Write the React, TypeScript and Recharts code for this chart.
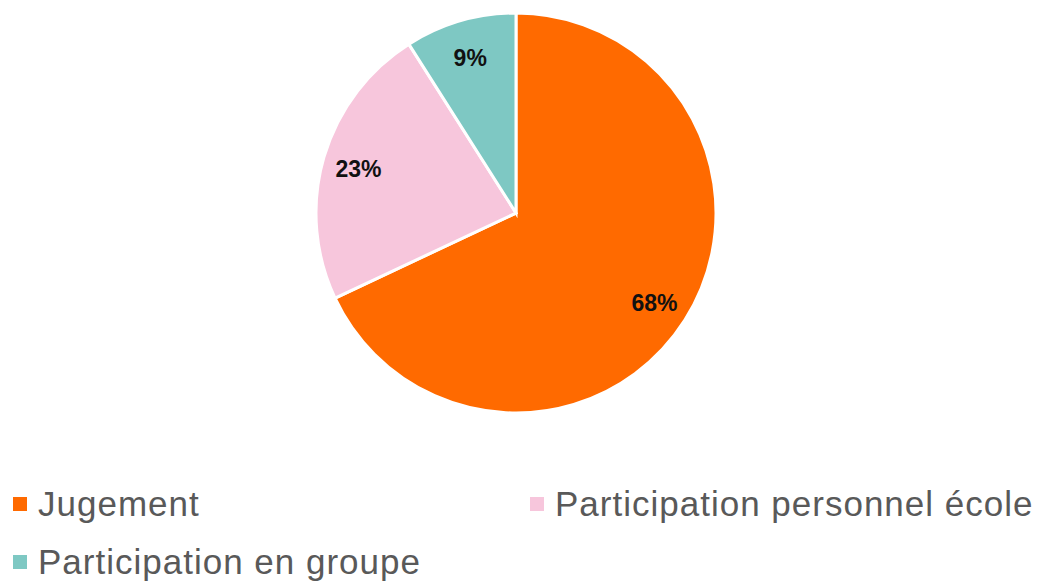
import React from "react";
import { PieChart, Pie, Cell, Legend } from "recharts";

const categories = ["Jugement", "Participation personnel école", "Participation en groupe"];
const shares = [68, 23, 9];
const colors = ["#FF6A00", "#F7C6DC", "#7EC8C3"];

const data = categories.map((name, i) => ({ name, value: shares[i] }));

const RADIAN = Math.PI / 180;

const renderLabel = (props: any) => {
  const { cx, cy, midAngle, outerRadius, value } = props;
  const r = outerRadius * 0.82;
  const x = cx + r * Math.cos(-midAngle * RADIAN);
  const y = cy + r * Math.sin(-midAngle * RADIAN) + 2;
  return (
    <text
      x={x}
      y={y}
      fill="#111"
      textAnchor="middle"
      dominantBaseline="central"
      fontSize={23}
      fontWeight={700}
      fontFamily="Liberation Sans, Arial, sans-serif"
    >
      {`${value}%`}
    </text>
  );
};

// legend: two columns, items flow left to right
const renderLegend = () => (
  <div style={{ position: "relative", width: 1039, height: 110 }}>
    {data.map((d, i) => {
      const col = i % 2;
      const row = Math.floor(i / 2);
      return (
        <div
          key={d.name}
          style={{
            position: "absolute",
            left: col === 0 ? 13 : 530,
            top: row * 58,
            display: "flex",
            alignItems: "center",
            height: 40,
          }}
        >
          <span style={{ width: 14, height: 14, background: colors[i], display: "inline-block", marginRight: 11 }} />
          <span
            style={{
              fontFamily: "Liberation Sans, Arial, sans-serif",
              fontSize: 35,
              letterSpacing: 1,
              color: "#595959",
              whiteSpace: "nowrap",
            }}
          >
            {d.name}
          </span>
        </div>
      );
    })}
  </div>
);

export default function App() {
  return (
    <div style={{ position: "absolute", left: 0, top: 0, background: "#fff" }}>
      <PieChart width={1039} height={582} margin={{ top: 0, right: 0, bottom: 0, left: 0 }}>
        <Pie
          data={data}
          dataKey="value"
          nameKey="name"
          cx={516}
          cy={213}
          outerRadius={200}
          startAngle={90}
          endAngle={-270}
          stroke="#fff"
          strokeWidth={3}
          labelLine={false}
          label={renderLabel}
          isAnimationActive={false}
        >
          {data.map((d, i) => (
            <Cell key={d.name} fill={colors[i]} />
          ))}
        </Pie>
        <Legend
          content={renderLegend}
          wrapperStyle={{ position: "absolute", left: 0, top: 484, width: 1039 }}
        />
      </PieChart>
    </div>
  );
}
